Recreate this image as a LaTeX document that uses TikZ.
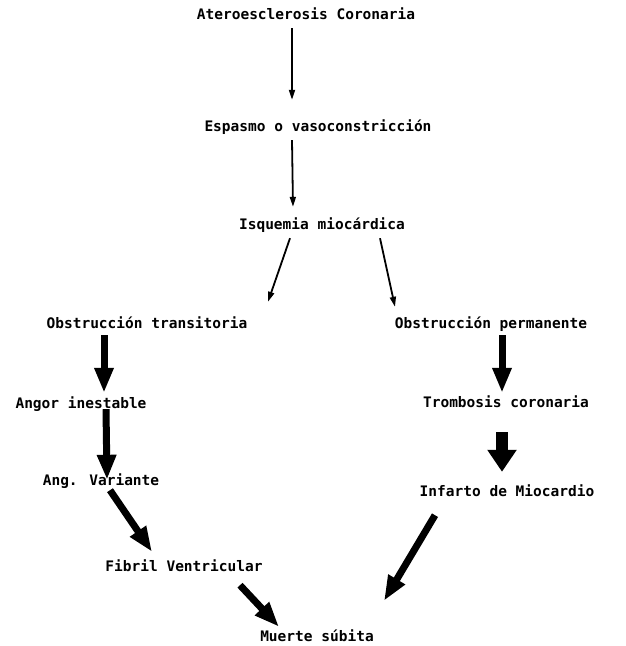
\documentclass[tikz,border=0pt]{standalone}
\usepackage{fontspec}
\newfontfamily\typewfont{DejaVu Sans Mono}
\usepackage{tikz}
\usetikzlibrary{arrows.meta,calc}

\begin{document}
\begin{tikzpicture}[x=1pt, y=-1pt,
  lbl/.style={inner sep=0pt, text height=10pt, text depth=3pt,
              font=\typewfont\bfseries\fontsize{14.5}{16}\selectfont},
  arr/.style={-{Triangle[length=10pt,width=6pt]}, line width=1.8pt},
  thk/.style={-{Triangle[length=25pt,width=18pt]}, line width=7pt},
  big/.style={-{Triangle[length=22pt,width=28pt]}, line width=12pt}
]
\useasboundingbox (0,0) rectangle (626,646);
\node[lbl] (ater) at (306,16) {Ateroesclerosis Coronaria};
\node[lbl] (esp) at (318,128) {Espasmo o vasoconstricción};
\node[lbl] (isq) at (322,226) {Isquemia miocárdica};
\node[lbl] (obst) at (147,325) {Obstrucción transitoria};
\node[lbl] (obsp) at (491,325) {Obstrucción permanente};
\node[lbl] (angor) at (81,405) {Angor inestable};
\node[lbl] (angv) at (101,482) {Ang. Variante};
\node[lbl] (fibril) at (184,568) {Fibril Ventricular};
\node[lbl] (tromb) at (506,404) {Trombosis coronaria};
\node[lbl] (infarto) at (507,493) {Infarto de Miocardio};
\node[lbl] (muerte) at (317,638) {Muerte súbita};
% thin arrows
\draw[arr] ($(ater.south)+(-14,5.5)$) -- ($(esp.north)+(-26,-21.5)$);
\draw[arr] ($(esp.south)+(-26,5.5)$) -- ($(isq.north)+(-29,-12.5)$);
\draw[arr] ($(isq.south)+(-32,5.5)$) -- ($(obst.north)+(121,-16.5)$);
\draw[arr] ($(isq.south)+(58,5.5)$) -- ($(obsp.north)+(-96,-11.5)$);
% thick arrows, left branch
\draw[thk] ($(obst.south)+(-43,3.5)$) -- ($(angor.north)+(23,-5.5)$);
\draw[thk] ($(angor.south)+(25,-2.5)$) -- ($(angv.north)+(6,4.5)$);
\draw[thk] ($(angv.south)+(9,1.5)$) -- ($(fibril.north)+(-32,-9.5)$);
\draw[thk] ($(fibril.south)+(56,10.5)$) -- ($(muerte.north)+(-38,-4.5)$);
% thick arrows, right branch
\draw[thk] ($(obsp.south)+(11,3.5)$) -- ($(tromb.north)+(-4,-4.5)$);
\draw[big] ($(tromb.south)+(-4,21.5)$) -- ($(infarto.north)+(-5,-14.5)$);
\draw[thk] ($(infarto.south)+(-72,15.5)$) -- ($(muerte.north)+(67,-30.5)$);
\end{tikzpicture}
\end{document}
